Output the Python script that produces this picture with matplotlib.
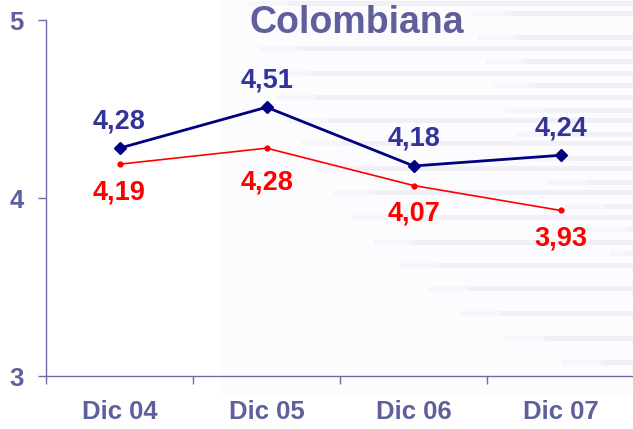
import matplotlib
matplotlib.use("Agg")
import matplotlib.pyplot as plt
from matplotlib.patches import Rectangle
from matplotlib.lines import Line2D

plt.rcParams["font.family"] = ["Liberation Sans", "DejaVu Sans"]

# data
categories = ["Dic 04", "Dic 05", "Dic 06", "Dic 07"]
serie_azul = [4.28, 4.51, 4.18, 4.24]
serie_roja = [4.19, 4.28, 4.07, 3.93]
title = "Colombiana"

W, H = 633, 429
TXT = "#5f5f9c"
AXC = "#6b6ba6"

# decorative background stripes (pixel rows, start x)
stripes_left = [(3, 250), (48, 260), (73, 273), (97, 278), (120, 290), (143, 303),
                (168, 318), (192, 335), (217, 353), (242, 375), (265, 401),
                (288, 430), (313, 463), (338, 506), (362, 563)]
stripes_right = [(13, 473), (37, 479), (61, 487), (85, 496), (110, 507), (134, 518),
                 (158, 531), (182, 548), (206, 567), (229, 588), (253, 611)]


def fx(px):
    return px / W


def fy(py):
    return 1 - py / H


fig = plt.figure(figsize=(W / 100, H / 100), dpi=100)
fig.add_artist(Rectangle((fx(222), fy(395)), fx(W - 222), 395 / H,
                         transform=fig.transFigure, color="#fcfcfe", zorder=0))
for yy, x0 in stripes_left + stripes_right:
    fig.add_artist(Line2D([fx(x0), fx(x0 + 40)], [fy(yy), fy(yy)],
                          transform=fig.transFigure, color="#f6f6fa", lw=3.5,
                          solid_capstyle="round", zorder=0.5))
    fig.add_artist(Line2D([fx(x0 + 40), 1.0], [fy(yy), fy(yy)],
                          transform=fig.transFigure, color="#f0f0f6", lw=3.5,
                          solid_capstyle="round", zorder=0.5))

ax = fig.add_axes([fx(46), fy(376), fx(W - 46) + 0.002, (376 - 20) / H])
ax.set_facecolor("none")
ax.set_zorder(2)

x = list(range(len(categories)))
ax.plot(x, serie_azul, color="#000080", lw=2.0, marker="D", ms=6.5, zorder=3)
ax.plot(x, serie_roja, color="#ff0000", lw=1.2, marker="o", ms=3.5, zorder=3)

for xi, v in zip(x, serie_azul):
    ax.annotate(f"{v:.2f}".replace(".", ","), (xi, v), xytext=(0, 27),
                textcoords="offset pixels", ha="center", va="center",
                color="#333399", fontsize=19.5, fontweight="bold")
for xi, v in zip(x, serie_roja):
    off = -34 if xi == 1 else -28
    ax.annotate(f"{v:.2f}".replace(".", ","), (xi, v), xytext=(0, off),
                textcoords="offset pixels", ha="center", va="center",
                color="#ff0000", fontsize=19.5, fontweight="bold")

ax.set_xlim(-0.5, 3.5)
ax.set_ylim(3, 5)
ax.set_yticks([3, 4, 5])
ax.set_yticklabels(["3", "4", "5"])
ax.set_xticks(x)
ax.set_xticklabels(categories)
ax.set_xticks([-0.5, 0.5, 1.5, 2.5], minor=True)
ax.tick_params(axis="x", which="major", length=0, pad=17,
               labelsize=18.5, labelcolor=TXT)
ax.tick_params(axis="x", which="minor", length=5.8, width=1.0, color=AXC,
               direction="out")
ax.tick_params(axis="y", length=5.8, width=1.0, color=AXC, pad=10,
               labelsize=18.5, labelcolor=TXT)
for lab in ax.get_xticklabels() + ax.get_yticklabels():
    lab.set_fontweight("bold")
for s in ("top", "right"):
    ax.spines[s].set_visible(False)
for s in ("left", "bottom"):
    ax.spines[s].set_color(AXC)
    ax.spines[s].set_linewidth(1.0)

fig.text(fx(357), fy(23), title, ha="center", va="center", color=TXT,
         fontsize=27, fontweight="bold", zorder=3)

fig.savefig("out.png", dpi=100)
